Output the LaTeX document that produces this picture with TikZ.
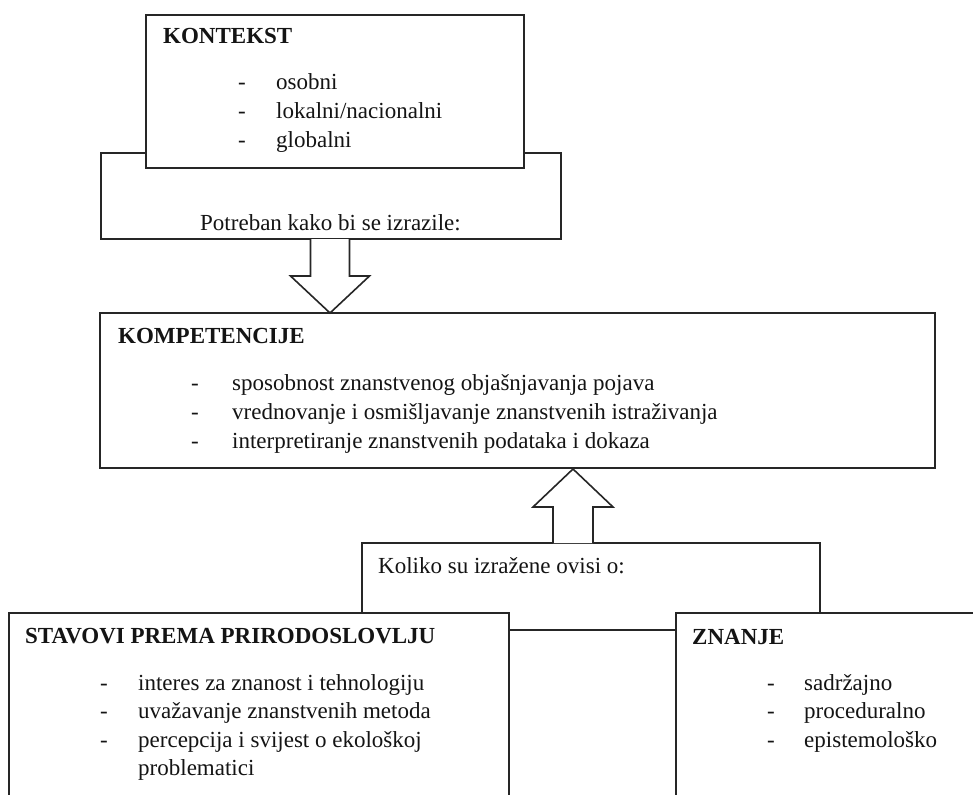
\documentclass[tikz,border=0pt]{standalone}
\usepackage{fontspec}
\setmainfont{Liberation Serif}
\usetikzlibrary{calc}
\definecolor{ln}{HTML}{262626}
\definecolor{tx}{HTML}{141414}
\tikzset{
  frame/.style={draw=ln, line width=1.6pt, fill=white, rectangle, inner sep=0pt, outer sep=0pt, anchor=north west},
  blk/.style={draw=ln, line width=1.6pt, fill=white, line join=miter},
  txt/.style={text=tx, inner sep=0pt, anchor=base west, font=\fontsize{23}{28.7}\selectfont},
  ttl/.style={txt, font=\fontsize{23}{28.7}\selectfont\bfseries},
}
\begin{document}
\begin{tikzpicture}[x=1pt,y=-1pt]
\useasboundingbox (0,0) rectangle (973,794);
\fill[white] (0,0) rectangle (973,794);
\clip (0,0) rectangle (973,794);

% top group
\node[frame, minimum width=460pt, minimum height=86pt] (potreban) at (101,153) {};
\node[frame, minimum width=378pt, minimum height=153pt] (kontekst) at (146,15) {};
\node[ttl] (kt) at (163,44) {KONTEKST};
\node[txt] (kd1) at (238,90) {-};
\node[txt] (kd2) at (238,119) {-};
\node[txt] (kd3) at (238,148) {-};
\node[txt] (ki1) at (276,90) {osobni};
\node[txt] (ki2) at (276,119) {lokalni/nacionalni};
\node[txt] (ki3) at (276,148) {globalni};
\node[txt] (pt) at (200,230) {Potreban kako bi se izrazile:};

% middle
\node[frame, minimum width=835pt, minimum height=155pt] (komp) at (100,313) {};
\coordinate (a1s) at (330,239);
\coordinate (a1t) at (330,313);
\draw[blk] ($(a1s)+(-19.5,0)$) -- ($(a1t)+(-19.5,-37)$) -- ($(a1t)+(-39.5,-37)$) -- (a1t)
  -- ($(a1t)+(39.5,-37)$) -- ($(a1t)+(19.5,-37)$) -- ($(a1s)+(19.5,0)$);
\node[ttl] (kmt) at (118,343) {KOMPETENCIJE};
\node[txt] (md1) at (191,390) {-};
\node[txt] (md2) at (191,419) {-};
\node[txt] (md3) at (191,448) {-};
\node[txt] (mi1) at (232,390) {sposobnost znanstvenog objašnjavanja pojava};
\node[txt] (mi2) at (232,419) {vrednovanje i osmišljavanje znanstvenih istraživanja};
\node[txt] (mi3) at (232,448) {interpretiranje znanstvenih podataka i dokaza};

% bottom
\node[frame, minimum width=458pt, minimum height=87pt] (koliko) at (362,543) {};
\coordinate (a2s) at (573,543);
\coordinate (a2t) at (573,469);
\draw[blk] ($(a2s)+(-20,0)$) -- ($(a2t)+(-20,38)$) -- ($(a2t)+(-40,38)$) -- (a2t)
  -- ($(a2t)+(40,38)$) -- ($(a2t)+(20,38)$) -- ($(a2s)+(20,0)$);
\node[txt] (kl) at (378,573) {Koliko su izražene ovisi o:};

\node[frame, minimum width=500pt, minimum height=220pt] (stavovi) at (9,613) {};
\node[ttl] (st) at (25,643) {STAVOVI PREMA PRIRODOSLOVLJU};
\node[txt] (sd1) at (100,690) {-};
\node[txt] (sd2) at (100,718) {-};
\node[txt] (sd3) at (100,747) {-};
\node[txt] (si1) at (138,690) {interes za znanost i tehnologiju};
\node[txt] (si2) at (138,718) {uvažavanje znanstvenih metoda};
\node[txt] (si3) at (138,747) {percepcija i svijest o ekološkoj};
\node[txt] (si4) at (138,775) {problematici};

\node[frame, minimum width=320pt, minimum height=220pt] (znanje) at (676,613) {};
\node[ttl] (zt) at (692,644) {ZNANJE};
\node[txt] (zd1) at (767,690) {-};
\node[txt] (zd2) at (767,718) {-};
\node[txt] (zd3) at (767,747) {-};
\node[txt] (zi1) at (804,690) {sadržajno};
\node[txt] (zi2) at (804,718) {proceduralno};
\node[txt] (zi3) at (804,747) {epistemološko};
\end{tikzpicture}
\end{document}
